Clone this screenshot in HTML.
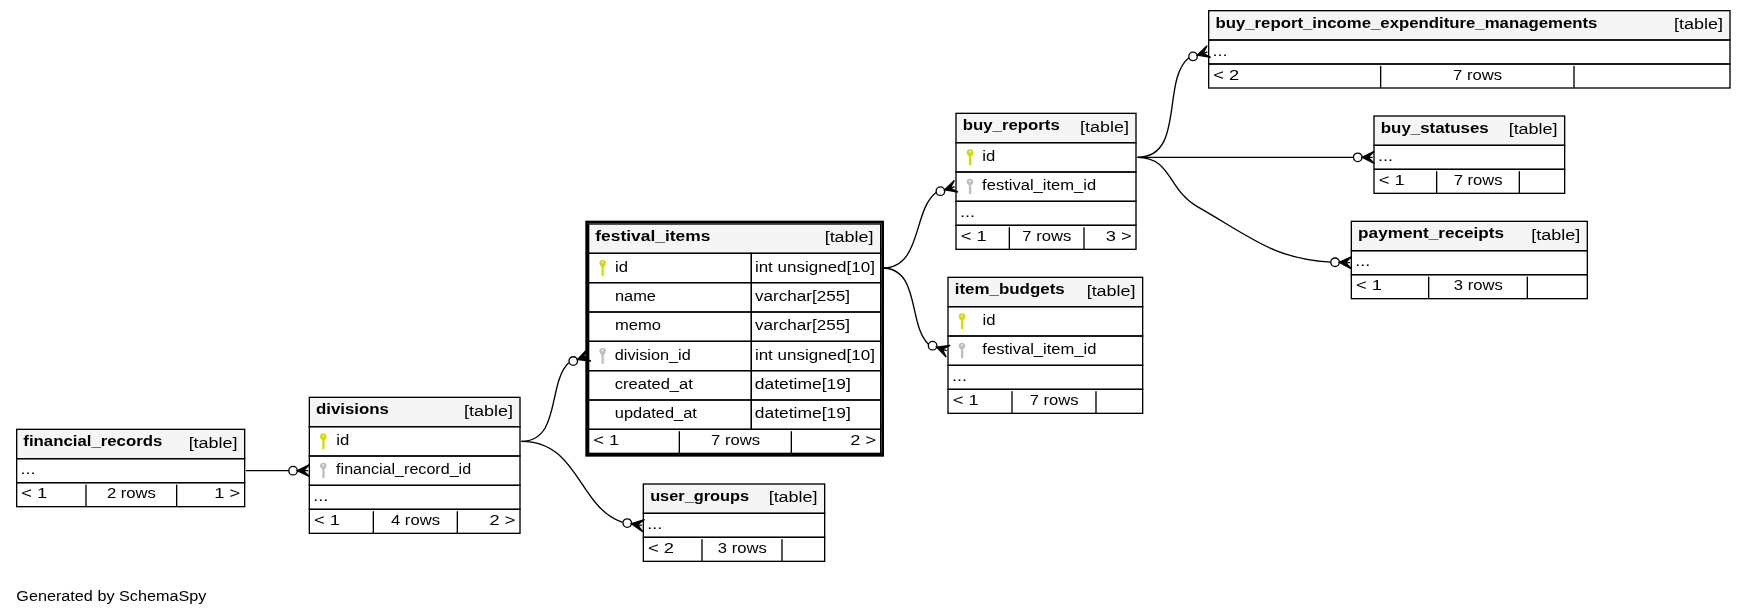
<!DOCTYPE html>
<html><head><meta charset="utf-8"><title>festival_items</title>
<style>
html,body{margin:0;padding:0;background:#ffffff;overflow:hidden;width:1745px;height:616px;}
svg{display:block;will-change:transform;}
text{font-family:"Liberation Sans",sans-serif;fill:#000000;}
text.r{font-size:11.5px;}
text.b{font-size:11.5px;font-weight:bold;}
.cb{fill:none;stroke:#000000;stroke-width:1;}
.fdv{stroke:#000000;stroke-width:1;stroke-linecap:round;}
.ed{fill:none;stroke:#000000;stroke-width:1;}
</style></head><body>
<svg width="1309pt" height="462pt" viewBox="0 0 1309 462"><rect x="0" y="0" width="1309" height="462" fill="#ffffff"/><g transform="translate(4 458)"><g><rect x="227.50" y="-160.50" width="159.00" height="103.00" fill="#ffffff"/><rect x="228.00" y="-160.00" width="158.00" height="22" fill="#f5f5f5"/><rect x="228.00" y="-160.00" width="158.00" height="22.00" class="cb"/><rect x="228.00" y="-138.00" width="158.00" height="22.00" class="cb"/><rect x="228.00" y="-116.00" width="158.00" height="22.00" class="cb"/><rect x="228.00" y="-94.00" width="158.00" height="18.00" class="cb"/><rect x="228.00" y="-76.00" width="158.00" height="18.00" class="cb"/><line x1="276.0" y1="-74.20" x2="276.0" y2="-58.60" class="fdv"/><line x1="339.0" y1="-74.20" x2="339.0" y2="-58.60" class="fdv"/><text class="b" x="232.98" y="-147.20" textLength="54.75" lengthAdjust="spacingAndGlyphs">divisions</text><text class="r" x="343.98" y="-146.20" textLength="36.75" lengthAdjust="spacingAndGlyphs">[table]</text><ellipse cx="238.47" cy="-130.68" rx="2.44" ry="2.33" fill="#d5db00"/><polygon points="236.45,-129.55 240.50,-129.55 239.22,-127.60 237.72,-127.60" fill="#d5db00"/><rect x="237.69" y="-130.00" width="1.58" height="8.77" rx="0.38" fill="#d5db00"/><rect x="239.15" y="-126.33" width="0.60" height="0.68" fill="#d5db00"/><rect x="239.15" y="-125.05" width="0.60" height="0.68" fill="#d5db00"/><rect x="239.15" y="-123.78" width="0.60" height="0.68" fill="#d5db00"/><rect x="239.15" y="-122.50" width="0.60" height="0.68" fill="#d5db00"/><circle cx="238.47" cy="-131.20" r="0.64" fill="#ffffff"/><text class="r" x="248.20" y="-124.20" textLength="9.75" lengthAdjust="spacingAndGlyphs">id</text><ellipse cx="238.47" cy="-108.67" rx="2.44" ry="2.33" fill="#bfbfbf"/><polygon points="236.45,-107.55 240.50,-107.55 239.22,-105.60 237.72,-105.60" fill="#bfbfbf"/><rect x="237.69" y="-108.00" width="1.58" height="8.77" rx="0.38" fill="#bfbfbf"/><rect x="239.15" y="-104.33" width="0.60" height="0.68" fill="#bfbfbf"/><rect x="239.15" y="-103.05" width="0.60" height="0.68" fill="#bfbfbf"/><rect x="239.15" y="-101.78" width="0.60" height="0.68" fill="#bfbfbf"/><rect x="239.15" y="-100.50" width="0.60" height="0.68" fill="#bfbfbf"/><circle cx="238.47" cy="-109.20" r="0.64" fill="#ffffff"/><text class="r" x="248.08" y="-102.20" textLength="101.25" lengthAdjust="spacingAndGlyphs">financial_record_id</text><text class="r" x="230.94" y="-82.20" textLength="11.25" lengthAdjust="spacingAndGlyphs">...</text><text class="r" x="231.49" y="-64.20" textLength="19.50" lengthAdjust="spacingAndGlyphs">&lt; 1</text><text class="r" x="289.25" y="-64.20" textLength="36.75" lengthAdjust="spacingAndGlyphs">4 rows</text><text class="r" x="363.11" y="-64.20" textLength="19.50" lengthAdjust="spacingAndGlyphs">2 &gt;</text></g><g><rect x="8.00" y="-136.50" width="172.00" height="59.00" fill="#ffffff"/><rect x="8.50" y="-136.00" width="171.00" height="22" fill="#f5f5f5"/><rect x="8.50" y="-136.00" width="171.00" height="22.00" class="cb"/><rect x="8.50" y="-114.00" width="171.00" height="18.00" class="cb"/><rect x="8.50" y="-96.00" width="171.00" height="18.00" class="cb"/><line x1="60.5" y1="-94.20" x2="60.5" y2="-78.60" class="fdv"/><line x1="128.5" y1="-94.20" x2="128.5" y2="-78.60" class="fdv"/><text class="b" x="13.49" y="-123.20" textLength="104.25" lengthAdjust="spacingAndGlyphs">financial_records</text><text class="r" x="137.48" y="-122.20" textLength="36.75" lengthAdjust="spacingAndGlyphs">[table]</text><text class="r" x="11.44" y="-102.20" textLength="11.25" lengthAdjust="spacingAndGlyphs">...</text><text class="r" x="11.99" y="-84.20" textLength="19.50" lengthAdjust="spacingAndGlyphs">&lt; 1</text><text class="r" x="76.18" y="-84.20" textLength="36.75" lengthAdjust="spacingAndGlyphs">2 rows</text><text class="r" x="156.66" y="-84.20" textLength="19.50" lengthAdjust="spacingAndGlyphs">1 &gt;</text></g><g><rect x="435.00" y="-292.50" width="224.00" height="177.00" fill="#ffffff"/><rect x="437.50" y="-290.00" width="219.00" height="22" fill="#f5f5f5"/><rect x="437.50" y="-290.00" width="219.00" height="22.00" class="cb"/><rect x="437.50" y="-268.00" width="122.00" height="22.00" class="cb"/><rect x="559.50" y="-268.00" width="97.00" height="22.00" class="cb"/><rect x="437.50" y="-246.00" width="122.00" height="22.00" class="cb"/><rect x="559.50" y="-246.00" width="97.00" height="22.00" class="cb"/><rect x="437.50" y="-224.00" width="122.00" height="22.00" class="cb"/><rect x="559.50" y="-224.00" width="97.00" height="22.00" class="cb"/><rect x="437.50" y="-202.00" width="122.00" height="22.00" class="cb"/><rect x="559.50" y="-202.00" width="97.00" height="22.00" class="cb"/><rect x="437.50" y="-180.00" width="122.00" height="22.00" class="cb"/><rect x="559.50" y="-180.00" width="97.00" height="22.00" class="cb"/><rect x="437.50" y="-158.00" width="122.00" height="22.00" class="cb"/><rect x="559.50" y="-158.00" width="97.00" height="22.00" class="cb"/><rect x="437.50" y="-136.00" width="219.00" height="18.00" class="cb"/><line x1="505.5" y1="-134.20" x2="505.5" y2="-118.60" class="fdv"/><line x1="589.5" y1="-134.20" x2="589.5" y2="-118.60" class="fdv"/><rect x="436.00" y="-291.50" width="222.00" height="175.00" fill="none" stroke="#000" stroke-width="2"/><text class="b" x="442.49" y="-277.20" textLength="86.25" lengthAdjust="spacingAndGlyphs">festival_items</text><text class="r" x="614.48" y="-276.20" textLength="36.75" lengthAdjust="spacingAndGlyphs">[table]</text><ellipse cx="447.98" cy="-260.68" rx="2.44" ry="2.33" fill="#d5db00"/><polygon points="445.95,-259.55 450.00,-259.55 448.73,-257.60 447.23,-257.60" fill="#d5db00"/><rect x="447.19" y="-260.00" width="1.58" height="8.77" rx="0.38" fill="#d5db00"/><rect x="448.65" y="-256.32" width="0.60" height="0.68" fill="#d5db00"/><rect x="448.65" y="-255.05" width="0.60" height="0.68" fill="#d5db00"/><rect x="448.65" y="-253.78" width="0.60" height="0.68" fill="#d5db00"/><rect x="448.65" y="-252.50" width="0.60" height="0.68" fill="#d5db00"/><circle cx="447.98" cy="-261.20" r="0.64" fill="#ffffff"/><text class="r" x="457.20" y="-254.20" textLength="9.75" lengthAdjust="spacingAndGlyphs">id</text><text class="r" x="562.18" y="-254.20" textLength="90.00" lengthAdjust="spacingAndGlyphs">int unsigned[10]</text><text class="r" x="457.18" y="-232.20" textLength="30.75" lengthAdjust="spacingAndGlyphs">name</text><text class="r" x="562.28" y="-232.20" textLength="71.25" lengthAdjust="spacingAndGlyphs">varchar[255]</text><text class="r" x="457.17" y="-210.20" textLength="34.50" lengthAdjust="spacingAndGlyphs">memo</text><text class="r" x="562.28" y="-210.20" textLength="71.25" lengthAdjust="spacingAndGlyphs">varchar[255]</text><ellipse cx="447.98" cy="-194.68" rx="2.44" ry="2.33" fill="#bfbfbf"/><polygon points="445.95,-193.55 450.00,-193.55 448.73,-191.60 447.23,-191.60" fill="#bfbfbf"/><rect x="447.19" y="-194.00" width="1.58" height="8.77" rx="0.38" fill="#bfbfbf"/><rect x="448.65" y="-190.32" width="0.60" height="0.68" fill="#bfbfbf"/><rect x="448.65" y="-189.05" width="0.60" height="0.68" fill="#bfbfbf"/><rect x="448.65" y="-187.78" width="0.60" height="0.68" fill="#bfbfbf"/><rect x="448.65" y="-186.50" width="0.60" height="0.68" fill="#bfbfbf"/><circle cx="447.98" cy="-195.20" r="0.64" fill="#ffffff"/><text class="r" x="457.09" y="-188.20" textLength="57.00" lengthAdjust="spacingAndGlyphs">division_id</text><text class="r" x="562.18" y="-188.20" textLength="90.00" lengthAdjust="spacingAndGlyphs">int unsigned[10]</text><text class="r" x="457.08" y="-166.20" textLength="58.50" lengthAdjust="spacingAndGlyphs">created_at</text><text class="r" x="562.06" y="-166.20" textLength="72.00" lengthAdjust="spacingAndGlyphs">datetime[19]</text><text class="r" x="457.14" y="-144.20" textLength="61.50" lengthAdjust="spacingAndGlyphs">updated_at</text><text class="r" x="562.06" y="-144.20" textLength="72.00" lengthAdjust="spacingAndGlyphs">datetime[19]</text><text class="r" x="440.99" y="-124.20" textLength="19.50" lengthAdjust="spacingAndGlyphs">&lt; 1</text><text class="r" x="529.26" y="-124.20" textLength="36.75" lengthAdjust="spacingAndGlyphs">7 rows</text><text class="r" x="633.61" y="-124.20" textLength="19.50" lengthAdjust="spacingAndGlyphs">2 &gt;</text></g><g><rect x="478.00" y="-95.50" width="137.00" height="59.00" fill="#ffffff"/><rect x="478.50" y="-95.00" width="136.00" height="22" fill="#f5f5f5"/><rect x="478.50" y="-95.00" width="136.00" height="22.00" class="cb"/><rect x="478.50" y="-73.00" width="136.00" height="18.00" class="cb"/><rect x="478.50" y="-55.00" width="136.00" height="18.00" class="cb"/><line x1="522.5" y1="-53.20" x2="522.5" y2="-37.60" class="fdv"/><line x1="582.5" y1="-53.20" x2="582.5" y2="-37.60" class="fdv"/><text class="b" x="483.60" y="-82.20" textLength="74.25" lengthAdjust="spacingAndGlyphs">user_groups</text><text class="r" x="572.48" y="-81.20" textLength="36.75" lengthAdjust="spacingAndGlyphs">[table]</text><text class="r" x="481.44" y="-61.20" textLength="11.25" lengthAdjust="spacingAndGlyphs">...</text><text class="r" x="481.99" y="-43.20" textLength="19.50" lengthAdjust="spacingAndGlyphs">&lt; 2</text><text class="r" x="534.36" y="-43.20" textLength="36.75" lengthAdjust="spacingAndGlyphs">3 rows</text></g><g><rect x="712.50" y="-373.50" width="136.00" height="103.00" fill="#ffffff"/><rect x="713.00" y="-373.00" width="135.00" height="22" fill="#f5f5f5"/><rect x="713.00" y="-373.00" width="135.00" height="22.00" class="cb"/><rect x="713.00" y="-351.00" width="135.00" height="22.00" class="cb"/><rect x="713.00" y="-329.00" width="135.00" height="22.00" class="cb"/><rect x="713.00" y="-307.00" width="135.00" height="18.00" class="cb"/><rect x="713.00" y="-289.00" width="135.00" height="18.00" class="cb"/><line x1="753.0" y1="-287.20" x2="753.0" y2="-271.60" class="fdv"/><line x1="809.0" y1="-287.20" x2="809.0" y2="-271.60" class="fdv"/><text class="b" x="718.09" y="-360.20" textLength="72.75" lengthAdjust="spacingAndGlyphs">buy_reports</text><text class="r" x="805.98" y="-359.20" textLength="36.75" lengthAdjust="spacingAndGlyphs">[table]</text><ellipse cx="723.48" cy="-343.68" rx="2.44" ry="2.33" fill="#d5db00"/><polygon points="721.45,-342.55 725.50,-342.55 724.23,-340.60 722.73,-340.60" fill="#d5db00"/><rect x="722.69" y="-343.00" width="1.58" height="8.77" rx="0.38" fill="#d5db00"/><rect x="724.15" y="-339.32" width="0.60" height="0.68" fill="#d5db00"/><rect x="724.15" y="-338.05" width="0.60" height="0.68" fill="#d5db00"/><rect x="724.15" y="-336.77" width="0.60" height="0.68" fill="#d5db00"/><rect x="724.15" y="-335.50" width="0.60" height="0.68" fill="#d5db00"/><circle cx="723.48" cy="-344.20" r="0.64" fill="#ffffff"/><text class="r" x="732.70" y="-337.20" textLength="9.75" lengthAdjust="spacingAndGlyphs">id</text><ellipse cx="723.48" cy="-321.68" rx="2.44" ry="2.33" fill="#bfbfbf"/><polygon points="721.45,-320.55 725.50,-320.55 724.23,-318.60 722.73,-318.60" fill="#bfbfbf"/><rect x="722.69" y="-321.00" width="1.58" height="8.77" rx="0.38" fill="#bfbfbf"/><rect x="724.15" y="-317.32" width="0.60" height="0.68" fill="#bfbfbf"/><rect x="724.15" y="-316.05" width="0.60" height="0.68" fill="#bfbfbf"/><rect x="724.15" y="-314.77" width="0.60" height="0.68" fill="#bfbfbf"/><rect x="724.15" y="-313.50" width="0.60" height="0.68" fill="#bfbfbf"/><circle cx="723.48" cy="-322.20" r="0.64" fill="#ffffff"/><text class="r" x="732.58" y="-315.20" textLength="85.50" lengthAdjust="spacingAndGlyphs">festival_item_id</text><text class="r" x="715.94" y="-295.20" textLength="11.25" lengthAdjust="spacingAndGlyphs">...</text><text class="r" x="716.49" y="-277.20" textLength="19.50" lengthAdjust="spacingAndGlyphs">&lt; 1</text><text class="r" x="762.76" y="-277.20" textLength="36.75" lengthAdjust="spacingAndGlyphs">7 rows</text><text class="r" x="825.31" y="-277.20" textLength="19.50" lengthAdjust="spacingAndGlyphs">3 &gt;</text></g><g><rect x="706.50" y="-250.50" width="147.00" height="103.00" fill="#ffffff"/><rect x="707.00" y="-250.00" width="146.00" height="22" fill="#f5f5f5"/><rect x="707.00" y="-250.00" width="146.00" height="22.00" class="cb"/><rect x="707.00" y="-228.00" width="146.00" height="22.00" class="cb"/><rect x="707.00" y="-206.00" width="146.00" height="22.00" class="cb"/><rect x="707.00" y="-184.00" width="146.00" height="18.00" class="cb"/><rect x="707.00" y="-166.00" width="146.00" height="18.00" class="cb"/><line x1="755.0" y1="-164.20" x2="755.0" y2="-148.60" class="fdv"/><line x1="818.0" y1="-164.20" x2="818.0" y2="-148.60" class="fdv"/><text class="b" x="712.04" y="-237.20" textLength="82.50" lengthAdjust="spacingAndGlyphs">item_budgets</text><text class="r" x="810.98" y="-236.20" textLength="36.75" lengthAdjust="spacingAndGlyphs">[table]</text><ellipse cx="717.48" cy="-220.68" rx="2.44" ry="2.33" fill="#d5db00"/><polygon points="715.45,-219.55 719.50,-219.55 718.23,-217.60 716.73,-217.60" fill="#d5db00"/><rect x="716.69" y="-220.00" width="1.58" height="8.77" rx="0.38" fill="#d5db00"/><rect x="718.15" y="-216.32" width="0.60" height="0.68" fill="#d5db00"/><rect x="718.15" y="-215.05" width="0.60" height="0.68" fill="#d5db00"/><rect x="718.15" y="-213.78" width="0.60" height="0.68" fill="#d5db00"/><rect x="718.15" y="-212.50" width="0.60" height="0.68" fill="#d5db00"/><circle cx="717.48" cy="-221.20" r="0.64" fill="#ffffff"/><text class="r" x="732.90" y="-214.20" textLength="9.75" lengthAdjust="spacingAndGlyphs">id</text><ellipse cx="717.48" cy="-198.68" rx="2.44" ry="2.33" fill="#bfbfbf"/><polygon points="715.45,-197.55 719.50,-197.55 718.23,-195.60 716.73,-195.60" fill="#bfbfbf"/><rect x="716.69" y="-198.00" width="1.58" height="8.77" rx="0.38" fill="#bfbfbf"/><rect x="718.15" y="-194.32" width="0.60" height="0.68" fill="#bfbfbf"/><rect x="718.15" y="-193.05" width="0.60" height="0.68" fill="#bfbfbf"/><rect x="718.15" y="-191.78" width="0.60" height="0.68" fill="#bfbfbf"/><rect x="718.15" y="-190.50" width="0.60" height="0.68" fill="#bfbfbf"/><circle cx="717.48" cy="-199.20" r="0.64" fill="#ffffff"/><text class="r" x="732.78" y="-192.20" textLength="85.50" lengthAdjust="spacingAndGlyphs">festival_item_id</text><text class="r" x="709.94" y="-172.20" textLength="11.25" lengthAdjust="spacingAndGlyphs">...</text><text class="r" x="710.49" y="-154.20" textLength="19.50" lengthAdjust="spacingAndGlyphs">&lt; 1</text><text class="r" x="768.26" y="-154.20" textLength="36.75" lengthAdjust="spacingAndGlyphs">7 rows</text></g><g><rect x="902.00" y="-450.50" width="392.00" height="59.00" fill="#ffffff"/><rect x="902.50" y="-450.00" width="391.00" height="22" fill="#f5f5f5"/><rect x="902.50" y="-450.00" width="391.00" height="22.00" class="cb"/><rect x="902.50" y="-428.00" width="391.00" height="18.00" class="cb"/><rect x="902.50" y="-410.00" width="391.00" height="18.00" class="cb"/><line x1="1031.5" y1="-408.20" x2="1031.5" y2="-392.60" class="fdv"/><line x1="1176.5" y1="-408.20" x2="1176.5" y2="-392.60" class="fdv"/><text class="b" x="907.59" y="-437.20" textLength="286.50" lengthAdjust="spacingAndGlyphs">buy_report_income_expenditure_managements</text><text class="r" x="1251.48" y="-436.20" textLength="36.75" lengthAdjust="spacingAndGlyphs">[table]</text><text class="r" x="905.44" y="-416.20" textLength="11.25" lengthAdjust="spacingAndGlyphs">...</text><text class="r" x="905.99" y="-398.20" textLength="19.50" lengthAdjust="spacingAndGlyphs">&lt; 2</text><text class="r" x="1085.76" y="-398.20" textLength="36.75" lengthAdjust="spacingAndGlyphs">7 rows</text></g><g><rect x="1026.00" y="-371.50" width="144.00" height="59.00" fill="#ffffff"/><rect x="1026.50" y="-371.00" width="143.00" height="22" fill="#f5f5f5"/><rect x="1026.50" y="-371.00" width="143.00" height="22.00" class="cb"/><rect x="1026.50" y="-349.00" width="143.00" height="18.00" class="cb"/><rect x="1026.50" y="-331.00" width="143.00" height="18.00" class="cb"/><line x1="1073.5" y1="-329.20" x2="1073.5" y2="-313.60" class="fdv"/><line x1="1135.5" y1="-329.20" x2="1135.5" y2="-313.60" class="fdv"/><text class="b" x="1031.59" y="-358.20" textLength="81.00" lengthAdjust="spacingAndGlyphs">buy_statuses</text><text class="r" x="1127.48" y="-357.20" textLength="36.75" lengthAdjust="spacingAndGlyphs">[table]</text><text class="r" x="1029.44" y="-337.20" textLength="11.25" lengthAdjust="spacingAndGlyphs">...</text><text class="r" x="1029.99" y="-319.20" textLength="19.50" lengthAdjust="spacingAndGlyphs">&lt; 1</text><text class="r" x="1086.26" y="-319.20" textLength="36.75" lengthAdjust="spacingAndGlyphs">7 rows</text></g><g><rect x="1009.00" y="-292.50" width="178.00" height="59.00" fill="#ffffff"/><rect x="1009.50" y="-292.00" width="177.00" height="22" fill="#f5f5f5"/><rect x="1009.50" y="-292.00" width="177.00" height="22.00" class="cb"/><rect x="1009.50" y="-270.00" width="177.00" height="18.00" class="cb"/><rect x="1009.50" y="-252.00" width="177.00" height="18.00" class="cb"/><line x1="1067.5" y1="-250.20" x2="1067.5" y2="-234.60" class="fdv"/><line x1="1141.5" y1="-250.20" x2="1141.5" y2="-234.60" class="fdv"/><text class="b" x="1014.58" y="-279.20" textLength="109.50" lengthAdjust="spacingAndGlyphs">payment_receipts</text><text class="r" x="1144.48" y="-278.20" textLength="36.75" lengthAdjust="spacingAndGlyphs">[table]</text><text class="r" x="1012.44" y="-258.20" textLength="11.25" lengthAdjust="spacingAndGlyphs">...</text><text class="r" x="1012.99" y="-240.20" textLength="19.50" lengthAdjust="spacingAndGlyphs">&lt; 1</text><text class="r" x="1086.36" y="-240.20" textLength="36.75" lengthAdjust="spacingAndGlyphs">3 rows</text></g><path d="M212.55,-105C202.2,-105 195.35,-105 180.5,-105" class="ed"/><polygon points="219.00,-105.00 228.20,-109.57 223.60,-105.00 227.00,-105.00 223.60,-105.00 228.20,-100.43 219.00,-105.00" fill="#000" stroke="#000" stroke-width="1"/><circle cx="215.8" cy="-105" r="3.2" fill="none" stroke="#000" stroke-width="1"/><path d="M422.54,-185.98C406.52,-170.89 416.78,-127 387,-127" class="ed"/><polygon points="428.97,-188.29 436.08,-195.71 433.30,-189.85 436.50,-191.00 433.30,-189.85 439.18,-187.10 428.97,-188.29" fill="#000" stroke="#000" stroke-width="1"/><circle cx="425.96" cy="-187.21" r="3.2" fill="none" stroke="#000" stroke-width="1"/><path d="M462.86,-66.24C429.47,-77.46 430.46,-127 387,-127" class="ed"/><polygon points="469.59,-65.21 479.37,-68.34 474.14,-64.51 477.50,-64.00 474.14,-64.51 478.00,-59.30 469.59,-65.21" fill="#000" stroke="#000" stroke-width="1"/><circle cx="466.43" cy="-65.7" r="3.2" fill="none" stroke="#000" stroke-width="1"/><path d="M698.03,-313.61C680.15,-299.63 687.89,-257 657.5,-257" class="ed"/><polygon points="704.37,-315.60 711.77,-322.72 708.76,-316.98 712.00,-318.00 708.76,-316.98 714.52,-314.00 704.37,-315.60" fill="#000" stroke="#000" stroke-width="1"/><circle cx="701.31" cy="-314.64" r="3.2" fill="none" stroke="#000" stroke-width="1"/><path d="M692.39,-199.87C676.73,-214.48 686.47,-257 657.5,-257" class="ed"/><polygon points="698.47,-197.69 708.67,-198.90 702.80,-196.14 706.00,-195.00 702.80,-196.14 705.59,-190.29 698.47,-197.69" fill="#000" stroke="#000" stroke-width="1"/><circle cx="695.45" cy="-198.77" r="3.2" fill="none" stroke="#000" stroke-width="1"/><path d="M887.69,-414.75C866.83,-398.34 885.23,-340 849,-340" class="ed"/><polygon points="893.85,-416.65 901.30,-423.72 898.25,-418.00 901.50,-419.00 898.25,-418.00 903.99,-414.98 893.85,-416.65" fill="#000" stroke="#000" stroke-width="1"/><circle cx="890.79" cy="-415.71" r="3.2" fill="none" stroke="#000" stroke-width="1"/><path d="M1011.03,-340C944.28,-340 922.39,-340 849,-340" class="ed"/><polygon points="1017.50,-340.00 1026.70,-344.57 1022.10,-340.00 1025.50,-340.00 1022.10,-340.00 1026.70,-335.43 1017.50,-340.00" fill="#000" stroke="#000" stroke-width="1"/><circle cx="1014.3" cy="-340" r="3.2" fill="none" stroke="#000" stroke-width="1"/><path d="M994,-261.41C951.45,-263.99 936.54,-278.65 894,-303 871.53,-315.86 874.89,-340 849,-340" class="ed"/><polygon points="1000.50,-261.23 1009.83,-265.54 1005.10,-261.10 1008.50,-261.00 1005.10,-261.10 1009.57,-256.39 1000.50,-261.23" fill="#000" stroke="#000" stroke-width="1"/><circle cx="997.3" cy="-261.32" r="3.2" fill="none" stroke="#000" stroke-width="1"/><text class="r" x="8.26" y="-7.20" textLength="142.50" lengthAdjust="spacingAndGlyphs">Generated by SchemaSpy</text></g></svg>
</body></html>
